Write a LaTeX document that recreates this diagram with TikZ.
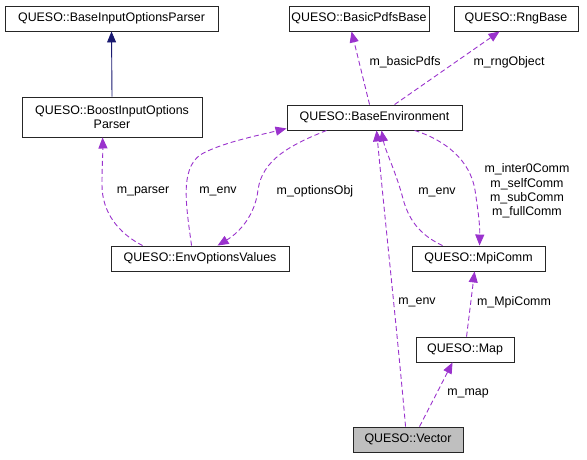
\documentclass[tikz,border=0pt]{standalone}
\usepackage{fontspec}
\setmainfont{Liberation Sans}
\usetikzlibrary{arrows.meta,calc}
\definecolor{purp}{HTML}{9A32CD}
\definecolor{navyb}{HTML}{191970}
\definecolor{grayfill}{HTML}{BFBFBF}
\begin{document}
\begin{tikzpicture}[x=1pt,y=-1pt,
  font=\fontsize{12.4}{14.4}\selectfont,
  cls/.style={draw=black!85, line width=0.9pt, inner sep=0pt, align=center, fill=white, minimum height=25pt},
  use/.style={draw=purp, line width=0.9pt, dash pattern=on 5pt off 3pt, -{Triangle[length=11pt,width=9pt,fill=purp]}},
  inh/.style={draw=navyb, line width=0.9pt, -{Triangle[length=11pt,width=9pt,fill=navyb]}},
  lbl/.style={inner sep=0pt, align=center}]
\useasboundingbox (0,0) rectangle (587,459);
% nodes
\node[cls, minimum width=213pt] (bip) at (111.5,18.5) {QUESO::BaseInputOptionsParser};
\node[cls, minimum width=180pt, minimum height=40pt] (boost) at (112,117) {QUESO::BoostInputOptions\\Parser};
\node[cls, minimum width=178pt] (eov) at (200,258.5) {QUESO::EnvOptionsValues};
\node[cls, minimum width=140pt] (bpb) at (359,18.5) {QUESO::BasicPdfsBase};
\node[cls, minimum width=124pt] (rng) at (516,18.5) {QUESO::RngBase};
\node[cls, minimum width=175pt] (benv) at (374.5,117.5) {QUESO::BaseEnvironment};
\node[cls, minimum width=133pt] (mpi) at (478.5,258.5) {QUESO::MpiComm};
\node[cls, minimum width=98pt] (map) at (465,349.5) {QUESO::Map};
\node[cls, minimum width=110pt, fill=grayfill] (vec) at (408,439.5) {QUESO::Vector};
% connectors
\draw[inh] (boost.north) -- (bip.south);
\draw[use] ($(eov.north west)+(32,0)$) .. controls (118,233) and (102,212) .. (102,185)
   .. controls (102,165) and (103,150) .. ($(boost.south west)+(81,0)$);
\draw[use] ($(eov.north west)+(81,0)$) .. controls (186,205) and (180,170) .. (200,155)
   .. controls (220,143) and (260,135) .. ($(benv.south west)+(0,-2)$);
\draw[use] ($(benv.south west)+(40,0)$) .. controls (290,145) and (262,160) .. (258,190)
   .. controls (255,215) and (240,232) .. ($(eov.north west)+(107,0)$);
\draw[use] ($(benv.north west)+(83,0)$) -- ($(bpb.south west)+(63,0)$);
\draw[use] ($(benv.north west)+(108,0)$) -- ($(rng.south west)+(46,0)$);
\draw[use] ($(benv.south west)+(128,0)$) .. controls (445,140) and (470,160) .. (475,190)
   .. controls (478,210) and (480,225) .. ($(mpi.north west)+(68,0)$);
\draw[use] ($(mpi.north west)+(31,0)$) .. controls (420,235) and (408,220) .. (402,195)
   .. controls (395,170) and (385,150) .. ($(benv.south west)+(95,0)$);
\draw[use] ($(vec.north west)+(53,0)$) .. controls (398,340) and (385,220) .. ($(benv.south west)+(90,0)$);
\draw[use] ($(map.north west)+(51,0)$) -- ($(mpi.south west)+(63,0)$);
\draw[use] ($(vec.north west)+(67,0)$) -- ($(map.south west)+(37,0)$);
% labels
\node[lbl] (lparser) at (143,191) {m\_parser};
\node[lbl] (lenv1) at (218,191) {m\_env};
\node[lbl] (lopt) at (315,191) {m\_optionsObj};
\node[lbl] (lbasic) at (405,62) {m\_basicPdfs};
\node[lbl] (lrng) at (509,62) {m\_rngObject};
\node[lbl] (lcomm) at (527,191) {m\_inter0Comm\\m\_selfComm\\m\_subComm\\m\_fullComm};
\node[lbl] (lenv2) at (437,192) {m\_env};
\node[lbl] (lenv3) at (417,302) {m\_env};
\node[lbl] (lmpi) at (514,302) {m\_MpiComm};
\node[lbl] (lmap) at (468,393) {m\_map};
\end{tikzpicture}
\end{document}
